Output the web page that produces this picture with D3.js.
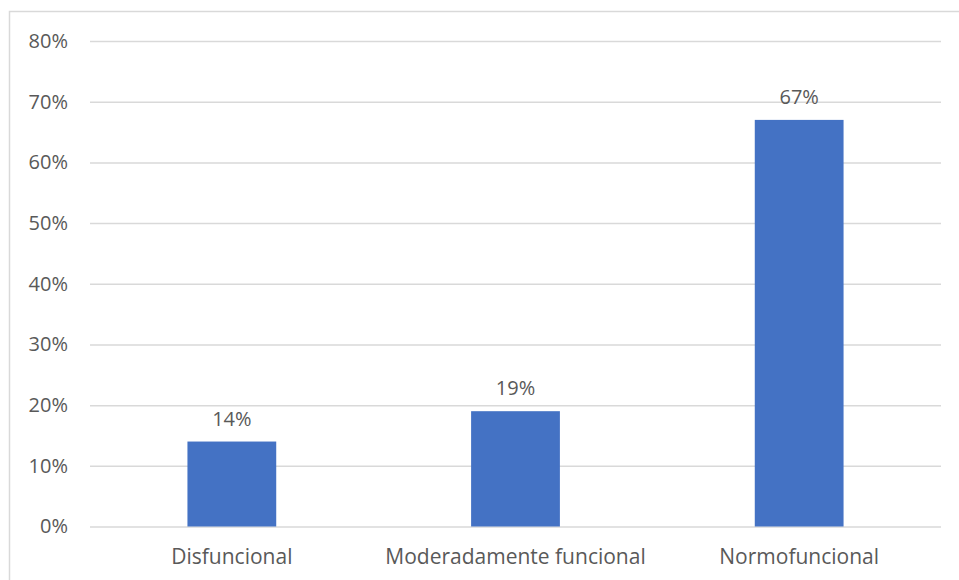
<!DOCTYPE html>
<html>
<head>
<meta charset="utf-8">
<script src="https://cdn.jsdelivr.net/npm/d3@7"></script>
<style>
	body { margin: 0; background: #fff; }
	text { font-family: 'Open Sans', 'Liberation Sans', sans-serif; fill: #595959; }
</style>
</head>
<body>
<div id="chart"></div>
<script>
// data
const categories = [ 'Disfuncional', 'Moderadamente funcional', 'Normofuncional' ];
const values = [ 0.14, 0.19, 0.67 ];
const yTicks = [ 0, 0.1, 0.2, 0.3, 0.4, 0.5, 0.6, 0.7, 0.8 ];

let dimensions = {
	width  : 959,
	height : 580,
	margin : {
		top    : 41,
		right  : 18,
		bottom : 53.5,
		left   : 90
	}
};
dimensions.boundedWidth = dimensions.width - dimensions.margin.left - dimensions.margin.right;
dimensions.boundedHeight = dimensions.height - dimensions.margin.top - dimensions.margin.bottom;

const svg = d3
	.select('#chart')
	.append('svg')
	.attr('width', dimensions.width)
	.attr('height', dimensions.height);

// chart area border (top + left visible)
svg
	.append('rect')
	.attr('x', 9.5)
	.attr('y', 11.5)
	.attr('width', 970)
	.attr('height', 600)
	.attr('fill', 'none')
	.attr('stroke', '#d9d9d9')
	.attr('stroke-width', 1.5);

const bounds = svg.append('g').attr('transform', `translate(${dimensions.margin.left}, ${dimensions.margin.top})`);

const x = d3
	.scaleBand()
	.domain(categories)
	.range([ 0, dimensions.boundedWidth ])
	.paddingInner(0.687)
	.paddingOuter(0.3435);
const y = d3.scaleLinear().domain([ 0, 0.8 ]).range([ dimensions.boundedHeight, 0 ]);

// gridlines
const yAxis = bounds
	.append('g')
	.call(d3.axisLeft(y).tickValues(yTicks).tickFormat(d3.format('.0%')).tickSize(-dimensions.boundedWidth).tickPadding(22));
yAxis.select('.domain').remove();
yAxis.selectAll('line').attr('stroke', '#d9d9d9').attr('stroke-width', 1.5);
yAxis.selectAll('text').attr('font-size', '20px').attr('fill', '#595959').style('font-family', "'Open Sans', sans-serif");

// bars
bounds
	.selectAll('rect.bar')
	.data(values)
	.enter()
	.append('rect')
	.attr('class', 'bar')
	.attr('x', (d, i) => x(categories[i]))
	.attr('width', x.bandwidth())
	.attr('y', (d) => y(d))
	.attr('height', (d) => dimensions.boundedHeight - y(d))
	.attr('fill', '#4472c4');

// value labels
bounds
	.selectAll('text.val')
	.data(values)
	.enter()
	.append('text')
	.attr('class', 'val')
	.attr('x', (d, i) => x(categories[i]) + x.bandwidth() / 2)
	.attr('y', (d) => y(d) - 16)
	.attr('text-anchor', 'middle')
	.attr('font-size', '20px')
	.text((d) => d3.format('.0%')(d));

// category labels
const xAxis = bounds
	.append('g')
	.attr('transform', `translate(0, ${dimensions.boundedHeight})`)
	.call(d3.axisBottom(x).tickSize(0).tickPadding(23));
xAxis.select('.domain').remove();
xAxis.selectAll('text').attr('font-size', '21px').attr('fill', '#595959').style('font-family', "'Open Sans', sans-serif");
</script>
</body>
</html>
